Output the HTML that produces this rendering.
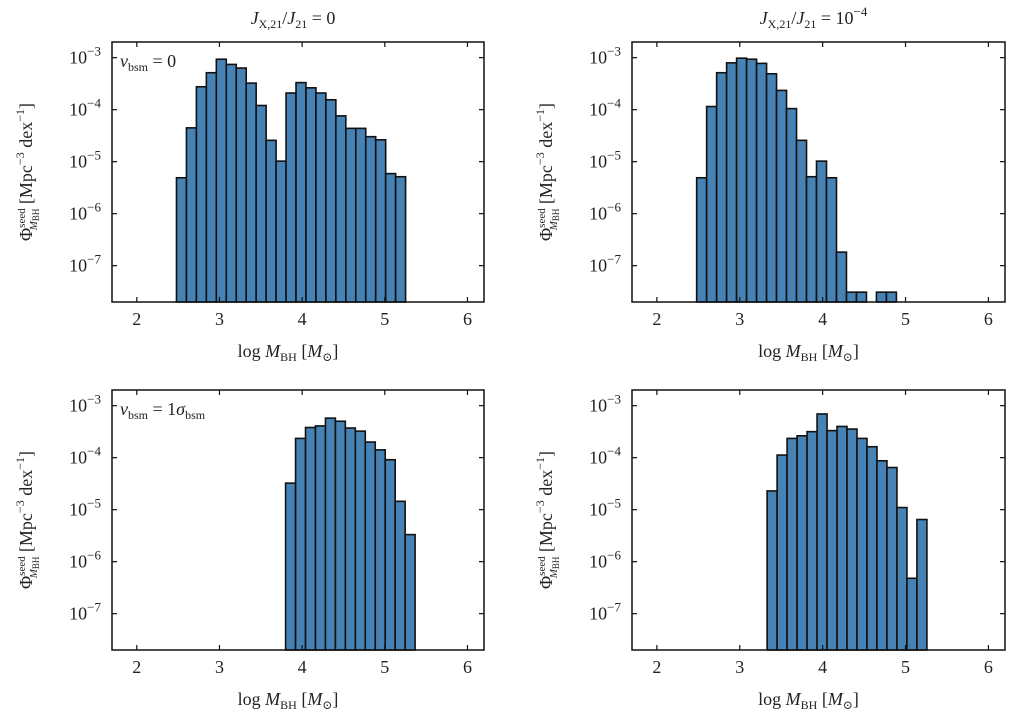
<!DOCTYPE html>
<html><head><meta charset="utf-8">
<style>
html,body{margin:0;padding:0;background:#fff;}
svg{display:block;font-family:"Liberation Serif","DejaVu Serif",serif;}
.t{font-size:18px;fill:#222;}
</style></head>
<body>
<svg id="fig" width="1024" height="717" viewBox="0 0 1024 717"></svg>
<script>
// log10 bar heights per panel
const startTL = 2.48, startTR = 2.48, startBL = 3.80, startBR = 3.33;
const binWidth = 0.1205;
const logTL = [-5.31,-4.35,-3.56,-3.29,-3.03,-3.13,-3.20,-3.49,-3.92,-4.59,-4.99,-3.68,-3.48,-3.58,-3.68,-3.81,-4.12,-4.36,-4.36,-4.52,-4.58,-5.23,-5.29];
const logTR = [-5.31,-3.94,-3.29,-3.10,-3.01,-3.03,-3.11,-3.31,-3.63,-3.98,-4.59,-5.29,-4.99,-5.31,-6.74,-7.51,-7.51,null,-7.51,-7.51];
const logBL = [-4.49,-3.63,-3.42,-3.39,-3.24,-3.30,-3.43,-3.49,-3.70,-3.85,-4.04,-4.84,-5.48];
const logBR = [-4.64,-3.95,-3.63,-3.58,-3.50,-3.16,-3.48,-3.40,-3.45,-3.63,-3.79,-4.06,-4.19,-4.96,-6.32,-5.19];
const xTicks = [2,3,4,5,6];
const yTicks = [-3,-4,-5,-6,-7];
const xMin = 1.7, xMax = 6.2, yMin = Math.log10(2e-8), yMax = Math.log10(2e-3);

const NS = "http://www.w3.org/2000/svg";
const svg = document.getElementById('fig');
function mk(tag, attrs, parent){
  const e = document.createElementNS(NS, tag);
  for (const k in attrs) e.setAttribute(k, attrs[k]);
  (parent||svg).appendChild(e);
  return e;
}
const panels = [
  {id:'top-left', L:112, R:484, T:42, B:302, data:logTL, start:startTL, title:'left', label:'v0'},
  {id:'top-right', L:632, R:1005, T:42, B:302, data:logTR, start:startTR, title:'right'},
  {id:'bottom-left', L:112, R:484, T:390, B:650, data:logBL, start:startBL, label:'v1'},
  {id:'bottom-right', L:632, R:1005, T:390, B:650, data:logBR, start:startBR}
];
panels.forEach(p=>{
  const g = mk('g',{});
  
  
  const xs = v => p.L + (v - xMin)/(xMax - xMin)*(p.R - p.L);
  const ys = v => p.B - (v - yMin)/(yMax - yMin)*(p.B - p.T);
  // bars
  p.data.forEach((v,i)=>{
    if (v === null) return;
    const x0 = xs(p.start + i*binWidth), x1 = xs(p.start + (i+1)*binWidth);
    const y = Math.max(ys(v), p.T);
    const r = mk('rect',{x:x0, y:y, width:x1-x0, height:p.B-y, fill:'#4682b4', stroke:'#111', 'stroke-width':1.6}, g);
    
    
  });
  // frame
  const f = mk('rect',{x:p.L, y:p.T, width:p.R-p.L, height:p.B-p.T, fill:'none', stroke:'#111', 'stroke-width':1.5}, g);
  
  
  // x ticks
  xTicks.forEach(t=>{
    const x = xs(t);
    mk('line',{x1:x,x2:x,y1:p.B,y2:p.B-5,stroke:'#111','stroke-width':1.2}, g);
    mk('line',{x1:x,x2:x,y1:p.T,y2:p.T+5,stroke:'#111','stroke-width':1.2}, g);
    const tx = mk('text',{x:x, y:p.B+23, 'text-anchor':'middle', class:'t'}, g);
    tx.textContent = t;
    
    
  });
  yTicks.forEach(t=>{
    const y = ys(t);
    mk('line',{x1:p.L,x2:p.L+5,y1:y,y2:y,stroke:'#111','stroke-width':1.2}, g);
    mk('line',{x1:p.R,x2:p.R-5,y1:y,y2:y,stroke:'#111','stroke-width':1.2}, g);
    const tx = mk('text',{x:p.L-11, y:y+6, 'text-anchor':'end', class:'t'}, g);
    tx.innerHTML = '10<tspan dy="-8" font-size="13">\u2212'+(-t)+'</tspan>';
    
    
  });
  // x label
  const xl = mk('text',{x:(p.L+p.R)/2 - 10, y:p.B+55, 'text-anchor':'middle', class:'t'}, g);
  xl.innerHTML = 'log  <tspan font-style="italic">M</tspan><tspan font-size="12" dy="4">BH</tspan><tspan dy="-4">  [</tspan><tspan font-style="italic">M</tspan><tspan font-size="12" dy="4">\u2299</tspan><tspan dy="-4">]</tspan>';
  
  
  // y label
  const cy = (p.T+p.B)/2, cx = p.L - 80;
  const yl = mk('text',{x:cx, y:cy, 'text-anchor':'middle', class:'t', transform:'rotate(-90 '+cx+' '+cy+')'}, g);
  yl.innerHTML = '\u03A6<tspan font-size="11" dy="-7">seed</tspan><tspan font-size="11" dx="-22" dy="12" font-style="italic">M</tspan><tspan font-size="9" dy="2">BH</tspan><tspan dy="-7">  [Mpc</tspan><tspan font-size="12" dy="-8">\u22123</tspan><tspan dy="8"> dex</tspan><tspan font-size="12" dy="-8">\u22121</tspan><tspan dy="8">]</tspan>';
  
  
  if (p.title){
    const tt = mk('text',{x:(p.L+p.R)/2 - 5, y:24, 'text-anchor':'middle', class:'t'}, g);
    tt.innerHTML = '<tspan font-style="italic">J</tspan><tspan font-size="12" dy="4">X,21</tspan><tspan dy="-4">/</tspan><tspan font-style="italic">J</tspan><tspan font-size="12" dy="4">21</tspan><tspan dy="-4"> = ' + (p.title==='left' ? '0' : '10</tspan><tspan font-size="13" dy="-8">\u22124') + '</tspan>';
    
    
  }
  if (p.label){
    const lt = mk('text',{x:p.L+8, y:p.T+25, class:'t'}, g);
    lt.innerHTML = '<tspan font-style="italic">v</tspan><tspan font-size="12" dy="4">bsm</tspan><tspan dy="-4"> = ' + (p.label==='v0' ? '0' : '1</tspan><tspan font-style="italic">\u03C3</tspan><tspan font-size="12" dy="4">bsm') + '</tspan>';
    
    
  }
});
</script>
</body></html>
